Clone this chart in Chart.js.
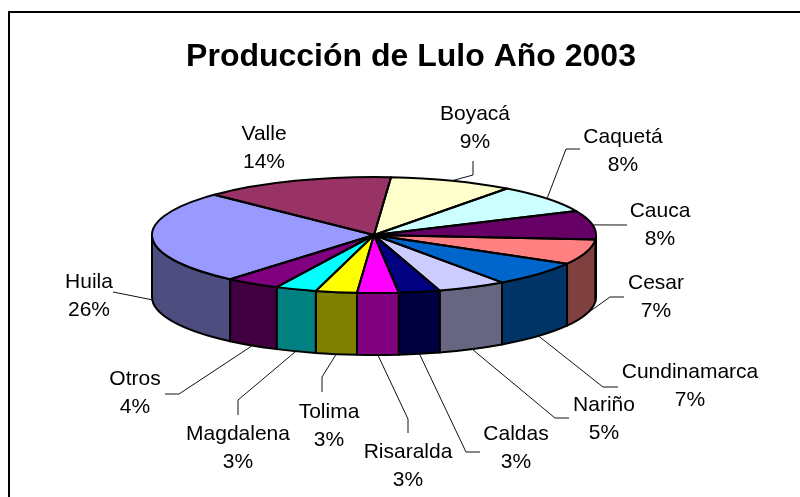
<!DOCTYPE html>
<html>
<head>
<meta charset="utf-8">
<title>Producción de Lulo Año 2003</title>
<script src="https://cdn.jsdelivr.net/npm/chart.js@4/dist/chart.umd.min.js"></script>
<style>
    html, body { margin: 0; padding: 0; background: #fff; }
    canvas { display: block; }
</style>
</head>
<body>
<canvas id="lulo" width="800" height="497"></canvas>
<script>
var categories = ['Huila', 'Valle', 'Boyacá', 'Caquetá', 'Cauca', 'Cesar', 'Cundinamarca', 'Nariño', 'Caldas', 'Risaralda', 'Tolima', 'Magdalena', 'Otros'];
var percents = [26, 14, 9, 8, 8, 7, 7, 5, 3, 3, 3, 3, 4];
var topColors = ['#9999FF', '#993366', '#FFFFCC', '#CCFFFF', '#660066', '#FF8080', '#0066CC', '#CCCCFF', '#000080', '#FF00FF', '#FFFF00', '#00FFFF', '#800080'];
var sideColors = ['#4D4D80', '#4D1A33', '#808066', '#668080', '#330033', '#804040', '#003366', '#666680', '#000040', '#800080', '#808000', '#008080', '#400040'];

// where the text of each label sits (centre x, middle of first line)
var labelSpots = [[89, 282], [264, 134], [475, 114], [623, 137], [660, 211], [656, 283], [690, 372], [604, 405], [516, 434], [408, 452], [329, 412], [238, 434], [135, 379]];
// leader line points after the slice edge, null = no leader
var leaderBends = [
    [[113, 292]],
    null,
    [[473, 175], [473, 161]],
    [[566, 149], [580, 149]],
    [[627, 225]],
    [[610, 297], [624, 297]],
    [[603, 387], [618, 387]],
    [[555, 418], [569, 418]],
    [[466, 452], [480, 452]],
    [[408, 419], [408, 433]],
    [[322, 377], [322, 392]],
    [[238, 400], [238, 415]],
    [[179, 394], [165, 394]]
];

// the tilted pie on the page
var pieX = 374, pieY = 235, pieRx = 222, pieRy = 58, pieDepth = 62;

function slicePath(ctx, arc) {
    ctx.beginPath();
    ctx.moveTo(pieX, pieY);
    ctx.ellipse(pieX, pieY, pieRx, pieRy, 0, arc.startAngle, arc.endAngle);
    ctx.closePath();
}

var tiltedPie = {
    id: 'tiltedPie',
    beforeDatasetsDraw: function (chart) {
        var ctx = chart.ctx;
        var arcs = chart.getDatasetMeta(0).data;
        // the wall first, only the part of each slice facing us
        ctx.save();
        ctx.lineWidth = 2;
        ctx.strokeStyle = '#000';
        ctx.lineJoin = 'round';
        arcs.forEach(function (arc, i) {
            [0, 2 * Math.PI].forEach(function (k) {
                var a0 = Math.max(arc.startAngle, k);
                var a1 = Math.min(arc.endAngle, k + Math.PI);
                if (a1 <= a0) return;
                ctx.beginPath();
                ctx.ellipse(pieX, pieY, pieRx, pieRy, 0, a0, a1);
                ctx.ellipse(pieX, pieY + pieDepth, pieRx, pieRy, 0, a1, a0, true);
                ctx.closePath();
                ctx.fillStyle = sideColors[i];
                ctx.fill();
                ctx.stroke();
            });
        });
        ctx.restore();
        // squash the round pie for the library's own arc drawing
        var first = arcs[0];
        ctx.save();
        ctx.translate(pieX, pieY);
        ctx.scale(pieRx / first.outerRadius, pieRy / first.outerRadius);
        ctx.translate(-first.x, -first.y);
    },
    afterDatasetsDraw: function (chart) {
        var ctx = chart.ctx;
        ctx.restore();
        ctx.save();
        ctx.lineWidth = 2;
        ctx.strokeStyle = '#000';
        ctx.lineJoin = 'round';
        chart.getDatasetMeta(0).data.forEach(function (arc) {
            slicePath(ctx, arc);
            ctx.stroke();
        });
        ctx.restore();
    },
    afterDraw: function (chart) {
        var ctx = chart.ctx;
        var arcs = chart.getDatasetMeta(0).data;
        ctx.save();
        // frame, only top and left are in the picture
        ctx.strokeStyle = '#000';
        ctx.lineWidth = 2;
        ctx.beginPath();
        ctx.moveTo(9, 497);
        ctx.lineTo(9, 12);
        ctx.lineTo(800, 12);
        ctx.stroke();
        // leaders
        ctx.lineWidth = 1;
        ctx.strokeStyle = '#111';
        arcs.forEach(function (arc, i) {
            if (!leaderBends[i]) return;
            var mid = (arc.startAngle + arc.endAngle) / 2;
            var x = pieX + pieRx * Math.cos(mid);
            var y = pieY + pieRy * Math.sin(mid);
            if (Math.sin(mid) > 0) y += pieDepth;
            ctx.beginPath();
            ctx.moveTo(x, y);
            leaderBends[i].forEach(function (p) { ctx.lineTo(p[0], p[1]); });
            ctx.stroke();
        });
        // labels
        ctx.fillStyle = '#000';
        ctx.font = '21px "Liberation Sans", Arial, sans-serif';
        ctx.textAlign = 'center';
        ctx.textBaseline = 'middle';
        categories.forEach(function (name, i) {
            ctx.fillText(name, labelSpots[i][0], labelSpots[i][1]);
            ctx.fillText(percents[i] + '%', labelSpots[i][0], labelSpots[i][1] + 28.5);
        });
        ctx.restore();
    }
};

new Chart(document.getElementById('lulo'), {
    type: 'pie',
    data: {
        labels: categories,
        datasets: [{
            data: percents,
            backgroundColor: topColors,
            borderWidth: 0,
            radius: 222,
            clip: false
        }]
    },
    options: {
        responsive: false,
        animation: false,
        rotation: 220.4,
        layout: { padding: { left: 22 } },
        plugins: {
            legend: { display: false },
            tooltip: { enabled: false },
            title: {
                display: true,
                text: 'Producción de Lulo Año 2003',
                color: '#000',
                font: { family: '"Liberation Sans", Arial, sans-serif', size: 32, weight: 'bold' },
                padding: { top: 38, bottom: 0 }
            }
        }
    },
    plugins: [tiltedPie]
});
</script>
</body>
</html>
